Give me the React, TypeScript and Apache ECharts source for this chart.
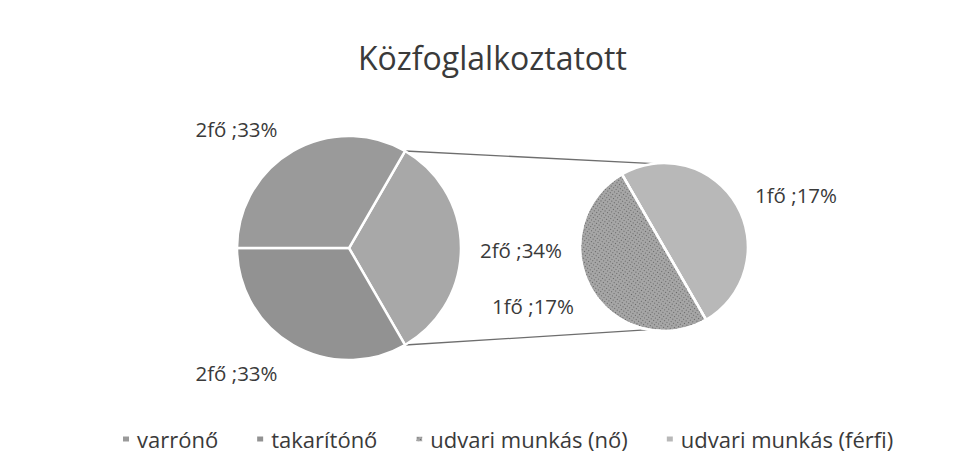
import React, { useEffect, useRef } from "react";
import * as echarts from "echarts";

const titleText = "Közfoglalkoztatott";
const categories = ["varrónő", "takarítónő", "udvari munkás (nő)", "udvari munkás (férfi)"];
const headcount = [2, 2, 1, 1];
const mainCategories = ["varrónő", "takarítónő"];
const subCategories = ["udvari munkás (nő)", "udvari munkás (férfi)"];
const unitLabel = "fő";

const W = 962;
const H = 468;
const MAIN = { cx: 349, cy: 248, r: 112 };
const SUB = { cx: 664, cy: 247, r: 84 };
const FONT = "'Open Sans', 'Noto Sans', sans-serif";
const TEXT = "#3a3a3a";

const colors: Record<string, string> = {
  "varrónő": "#9a9a9a",
  "takarítónő": "#929292",
  "udvari munkás (nő)": "#a6a6a6",
  "udvari munkás (férfi)": "#b8b8b8",
  other: "#a8a8a8",
};

export default function App() {
  const ref = useRef<HTMLDivElement>(null);
  useEffect(() => {
    if (!ref.current) return;
    const chart = echarts.init(ref.current, undefined, { renderer: "svg" });
    const total = headcount.reduce((a, b) => a + b, 0);
    const val = (name: string) => headcount[categories.indexOf(name)];
    const pct = (v: number) => Math.round((v / total) * 100);
    const otherVal = subCategories.reduce((s, n) => s + val(n), 0);
    const otherPct = subCategories.reduce((s, n) => s + pct(val(n)), 0);
    const lbl = (v: number, p: number) => `${v}${unitLabel} ;${p}%`;

    const rad = (d: number) => (d * Math.PI) / 180;
    const polar = (c: { cx: number; cy: number }, ang: number, dist: number) => ({
      x: c.cx + dist * Math.cos(rad(ang)),
      y: c.cy - dist * Math.sin(rad(ang)),
    });
    const off = (c: { cx: number; cy: number }, dx: number, dy: number) => ({ x: c.cx + dx, y: c.cy + dy });

    // main pie: "other" slice centered at 3 o'clock spanning 120deg
    const mainData = [
      { name: "Other", value: otherVal, itemStyle: { color: colors.other }, lab: lbl(otherVal, otherPct), pos: off(MAIN, 172, 2) },
      { name: mainCategories[1], value: val(mainCategories[1]), itemStyle: { color: colors[mainCategories[1]] }, lab: lbl(val(mainCategories[1]), pct(val(mainCategories[1]))), pos: off(MAIN, -112.5, 125) },
      { name: mainCategories[0], value: val(mainCategories[0]), itemStyle: { color: colors[mainCategories[0]] }, lab: lbl(val(mainCategories[0]), pct(val(mainCategories[0]))), pos: off(MAIN, -112.5, -119) },
    ];
    const subData = [
      { name: subCategories[1], value: val(subCategories[1]), itemStyle: { color: colors[subCategories[1]] }, lab: lbl(val(subCategories[1]), pct(val(subCategories[1]))), pos: off(SUB, 132, -52) },
      {
        name: subCategories[0],
        value: val(subCategories[0]),
        itemStyle: {
          color: colors[subCategories[0]],
          decal: {
            symbol: "rect",
            symbolSize: 1,
            color: "rgba(55,55,55,0.6)",
            dashArrayX: [1, 2],
            dashArrayY: [1, 2],
            rotation: 0.6,
          },
        },
        lab: lbl(val(subCategories[0]), pct(val(subCategories[0]))),
        pos: off(SUB, -131, 59),
      },
    ];

    const makeLayout = (data: any[]) => (p: any) => {
      const d = data[p.dataIndex];
      return { x: d.pos.x, y: d.pos.y, align: "center", verticalAlign: "middle" };
    };

    const labelCfg = {
      show: true,
      position: "outside",
      formatter: (p: any) => p.data.lab,
      fontFamily: FONT,
      fontSize: 20.5,
      color: TEXT,
    };

    const mTop = polar(MAIN, 60, MAIN.r);
    const mBot = polar(MAIN, -60, MAIN.r);
    const sTop = polar(SUB, 97, SUB.r);
    const sBot = polar(SUB, -100, SUB.r);

    chart.setOption({
      animation: false,
      backgroundColor: "#ffffff",
      title: {
        text: titleText,
        left: 353,
        top: 36,
        textStyle: { fontFamily: FONT, fontSize: 32, fontWeight: "normal", color: TEXT },
      },
      legend: {
        data: categories,
        bottom: 18,
        left: 121,
        padding: 0,
        icon: "rect",
        itemWidth: 8,
        itemHeight: 7,
        itemGap: 37,
        textStyle: { fontFamily: FONT, fontSize: 22, color: TEXT, padding: [0, 0, 0, 2] },
      },
      graphic: [
        { type: "line", shape: { x1: mTop.x, y1: mTop.y, x2: sTop.x, y2: sTop.y }, style: { stroke: "#6e6e6e", lineWidth: 1.3 } },
        { type: "line", shape: { x1: mBot.x, y1: mBot.y, x2: sBot.x, y2: sBot.y }, style: { stroke: "#6e6e6e", lineWidth: 1.3 } },
      ],
      series: [
        {
          type: "pie",
          center: [MAIN.cx, MAIN.cy],
          radius: [0, MAIN.r],
          startAngle: 60,
          clockwise: true,
          data: mainData,
          label: labelCfg,
          labelLine: { show: false },
          labelLayout: makeLayout(mainData),
          itemStyle: { borderColor: "#ffffff", borderWidth: 2.5 },
          emphasis: { disabled: true },
        },
        {
          type: "pie",
          center: [SUB.cx, SUB.cy],
          radius: [0, SUB.r],
          startAngle: 120,
          clockwise: true,
          data: subData,
          label: labelCfg,
          labelLine: { show: false },
          labelLayout: makeLayout(subData),
          itemStyle: { borderColor: "#ffffff", borderWidth: 2.5 },
          emphasis: { disabled: true },
        },
      ],
    });
    return () => chart.dispose();
  }, []);
  return <div ref={ref} style={{ position: "fixed", left: 0, top: 0, width: W, height: H }} />;
}
